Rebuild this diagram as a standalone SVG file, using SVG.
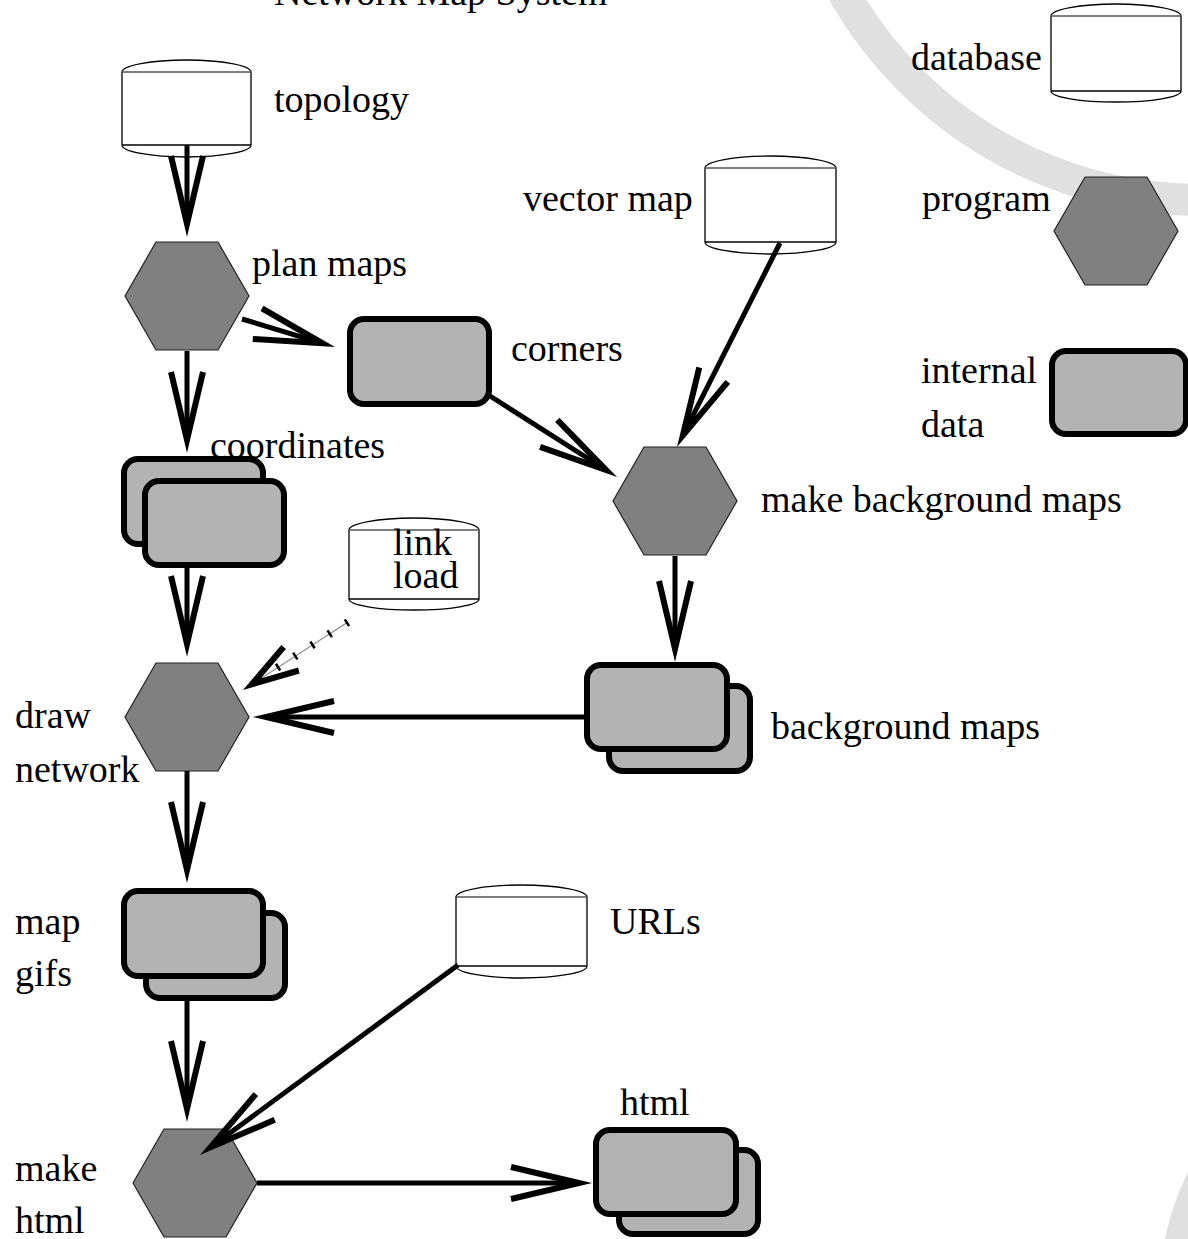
<svg xmlns="http://www.w3.org/2000/svg" width="1188" height="1239" viewBox="0 0 1188 1239">
<style>
text{font-family:"Liberation Serif","Times New Roman",serif;font-size:38px;fill:#000}
.hex{fill:#808080;stroke:#222;stroke-width:1.2}
.box{fill:#b3b3b3;stroke:#000;stroke-width:6}
.cyl{fill:#fff;stroke:#000;stroke-width:1.3}
.lid{fill:none;stroke:#555;stroke-width:1.6}
.edge{fill:none;stroke:#000;stroke-width:5}
.dot{fill:none;stroke:#888;stroke-width:1.2}
.tick{fill:none;stroke:#000;stroke-width:8;stroke-dasharray:2.5 18}
</style>
<defs>
<marker id="ah" markerUnits="userSpaceOnUse" orient="auto" refX="0" refY="0" markerWidth="120" markerHeight="60" viewBox="-100 -30 120 60" overflow="visible">
<path d="M-68,-16 L0,0 L-68,16" fill="none" stroke="#000" stroke-width="6" stroke-miterlimit="8"/>
</marker>
<marker id="ahs" markerUnits="userSpaceOnUse" orient="auto" refX="0" refY="0" markerWidth="120" markerHeight="60" viewBox="-100 -30 120 60" overflow="visible">
<path d="M-47,-14 L0,0 L-47,14" fill="none" stroke="#000" stroke-width="6" stroke-miterlimit="8"/>
</marker>
</defs>
<g id="background">
<circle cx="1200" cy="-210" r="410" fill="none" stroke="#e0e0e0" stroke-width="32"/>
<path d="M1188,1172 C1178,1192 1170,1215 1165,1239 L1188,1239 Z" fill="#e0e0e0"/>
</g>
<text id="title" x="274" y="5">Network Map System</text>
<g id="legend-database">
<path class="cyl" d="M1051,16 A65,12 0 0 1 1181,16 L1181,91 A65,11 0 0 1 1051,91 Z"/>
<line class="lid" x1="1051" y1="16" x2="1181" y2="16"/>
<line class="cyl" x1="1051" y1="91" x2="1181" y2="91"/>
<text x="911" y="70">database</text>
</g>
<g id="legend-program">
<polygon class="hex" points="1085,177 1147,177 1178,231 1147,285 1085,285 1054,231"/>
<text x="922" y="211">program</text>
</g>
<g id="legend-internal">
<rect class="box" x="1052" y="351" width="134" height="83" rx="14"/>
<text x="921" y="383">internal</text>
<text x="921" y="437">data</text>
</g>
<g id="topology">
<path class="cyl" d="M122,72 A64.5,12 0 0 1 251,72 L251,145 A64.5,12 0 0 1 122,145 Z"/>
<line class="lid" x1="122" y1="72" x2="251" y2="72"/>
<line class="cyl" x1="122" y1="145" x2="251" y2="145"/>
<text x="274" y="112">topology</text>
</g>
<g id="vector-map">
<path class="cyl" d="M705,168 A65.5,12 0 0 1 836,168 L836,242 A65.5,12 0 0 1 705,242 Z"/>
<line class="lid" x1="705" y1="168" x2="836" y2="168"/>
<line class="cyl" x1="705" y1="242" x2="836" y2="242"/>
<text x="523" y="211">vector map</text>
</g>
<g id="link-load">
<path class="cyl" d="M349,530 A65,12 0 0 1 479,530 L479,599 A65,11 0 0 1 349,599 Z"/>
<line class="lid" x1="349" y1="530" x2="479" y2="530"/>
<line class="cyl" x1="349" y1="599" x2="479" y2="599"/>
<text x="393" y="555">link</text>
<text x="393" y="588">load</text>
</g>
<g id="urls">
<path class="cyl" d="M456,897 A65.5,12 0 0 1 587,897 L587,966 A65.5,12 0 0 1 456,966 Z"/>
<line class="lid" x1="456" y1="897" x2="587" y2="897"/>
<line class="cyl" x1="456" y1="966" x2="587" y2="966"/>
<text x="610" y="934">URLs</text>
</g>
<g id="plan-maps">
<polygon class="hex" points="156,242 218,242 249,296 218,350 156,350 125,296"/>
<text x="252" y="276">plan maps</text>
</g>
<g id="corners">
<rect class="box" x="350" y="319" width="139" height="85" rx="14"/>
<text x="511" y="361">corners</text>
</g>
<g id="coordinates">
<rect class="box" x="124" y="459" width="139" height="85" rx="14"/>
<rect class="box" x="145" y="481" width="139" height="84" rx="14"/>
<text x="210" y="458">coordinates</text>
</g>
<g id="make-background-maps">
<polygon class="hex" points="644,447 706,447 737,501 706,555 644,555 613,501"/>
<text x="761" y="512">make background maps</text>
</g>
<g id="background-maps">
<rect class="box" x="609" y="686" width="141" height="85" rx="14"/>
<rect class="box" x="587" y="665" width="140" height="84" rx="14"/>
<text x="771" y="739">background maps</text>
</g>
<g id="draw-network">
<polygon class="hex" points="156,663 218,663 249,717 218,771 156,771 125,717"/>
<text x="15" y="728">draw</text>
<text x="15" y="782">network</text>
</g>
<g id="map-gifs">
<rect class="box" x="146" y="913" width="139" height="85" rx="14"/>
<rect class="box" x="124" y="891" width="139" height="85" rx="14"/>
<text x="15" y="934">map</text>
<text x="15" y="986">gifs</text>
</g>
<g id="make-html">
<polygon class="hex" points="164,1129 226,1129 257,1183 226,1237 164,1237 133,1183"/>
<text x="15" y="1181">make</text>
<text x="15" y="1233">html</text>
</g>
<g id="html">
<rect class="box" x="619" y="1150" width="139" height="84" rx="14"/>
<rect class="box" x="596" y="1130" width="140" height="84" rx="14"/>
<text x="620" y="1115">html</text>
</g>
<g id="connectors">
<line class="edge" x1="187" y1="145" x2="187" y2="224" marker-end="url(#ah)"/>
<line class="edge" x1="187" y1="351" x2="187" y2="440" marker-end="url(#ah)"/>
<line class="edge" x1="242" y1="319" x2="322.5" y2="343.3" marker-end="url(#ah)"/>
<line class="edge" x1="490" y1="396" x2="606" y2="470" marker-end="url(#ah)"/>
<line class="edge" x1="780" y1="243" x2="682.9" y2="435.4" marker-end="url(#ah)"/>
<line class="edge" x1="675" y1="556" x2="675" y2="649" marker-end="url(#ah)"/>
<line class="edge" x1="187" y1="567" x2="187" y2="644" marker-end="url(#ah)"/>
<line class="dot" x1="348" y1="622" x2="251.8" y2="684.3" marker-end="url(#ahs)"/>
<line class="tick" x1="348" y1="622" x2="258" y2="680"/>
<line class="edge" x1="584" y1="717" x2="266" y2="717" marker-end="url(#ah)"/>
<line class="edge" x1="187" y1="771" x2="187" y2="870" marker-end="url(#ah)"/>
<line class="edge" x1="187" y1="1000" x2="187" y2="1109" marker-end="url(#ah)"/>
<line class="edge" x1="458" y1="965" x2="210.5" y2="1147.3" marker-end="url(#ah)"/>
<line class="edge" x1="257" y1="1183" x2="579" y2="1183" marker-end="url(#ah)"/>
</g>
</svg>
